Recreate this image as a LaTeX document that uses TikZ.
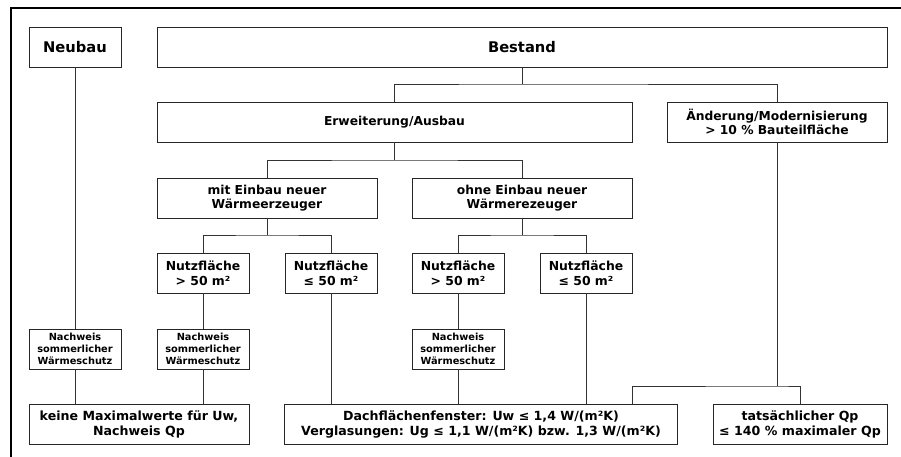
\documentclass[tikz,border=0pt]{standalone}
\usepackage{fontspec}
\setmainfont{DejaVu Sans}
\begin{document}
\begin{tikzpicture}[x=1pt,y=-1pt,
  box/.style={draw=black!85,line width=0.9pt,rectangle,inner sep=0pt,align=center,font=\bfseries},
  big/.style={font=\fontsize{14.7}{16}\selectfont\bfseries},
  mid/.style={font=\fontsize{12.3}{14}\selectfont\bfseries},
  nutz/.style={font=\fontsize{12.4}{15}\selectfont\bfseries},
  small/.style={font=\fontsize{9.8}{12.2}\selectfont\bfseries},
  bot/.style={font=\fontsize{12.6}{15}\selectfont\bfseries},
  con/.style={draw=black!80,line width=0.9pt}]
\useasboundingbox (0,0) rectangle (901,457);
\draw[line width=1.1pt] (11,457) -- (11,8) -- (901,8);
% row 1
\node[box,big,minimum width=92,minimum height=40] (neu) at (75,47) {Neubau};
\node[box,big,minimum width=730,minimum height=40] (best) at (522,47) {Bestand};
% row 2
\node[box,mid,minimum width=475,minimum height=40] (erw) at (394.5,122) {Erweiterung/Ausbau};
\node[box,mid,minimum width=220,minimum height=40] (aend) at (777,122) {Änderung/Modernisierung\\> 10 \% Bauteilfläche};
% row 3
\node[box,mid,minimum width=220,minimum height=40] (mit) at (267,198) {mit Einbau neuer\\Wärmeerzeuger};
\node[box,mid,minimum width=220,minimum height=40] (ohne) at (522,198) {ohne Einbau neuer\\Wärmerezeuger};
% row 4
\node[box,nutz,minimum width=92,minimum height=40] (n1) at (203,273) {Nutzfläche\\> 50 m²};
\node[box,nutz,minimum width=92,minimum height=40] (n2) at (331,273) {Nutzfläche\\≤ 50 m²};
\node[box,nutz,minimum width=92,minimum height=40] (n3) at (458,273) {Nutzfläche\\> 50 m²};
\node[box,nutz,minimum width=92,minimum height=40] (n4) at (586,273) {Nutzfläche\\≤ 50 m²};
% row 5
\node[box,small,minimum width=92,minimum height=40] (s1) at (75,349) {Nachweis\\sommerlicher\\Wärmeschutz};
\node[box,small,minimum width=92,minimum height=40] (s2) at (203,349) {Nachweis\\sommerlicher\\Wärmeschutz};
\node[box,small,minimum width=92,minimum height=40] (s3) at (458,349) {Nachweis\\sommerlicher\\Wärmeschutz};
% row 6
\node[box,bot,minimum width=220,minimum height=40] (keine) at (139,424) {keine Maximalwerte für Uw,\\Nachweis Qp};
\node[box,bot,minimum width=393,minimum height=40] (dach) at (481,424) {Dachflächenfenster: Uw ≤ 1,4 W/(m²K)\\Verglasungen: Ug ≤ 1,1 W/(m²K) bzw. 1,3 W/(m²K)};
\node[box,bot,minimum width=174,minimum height=40] (tats) at (800,424) {tatsächlicher Qp\\≤ 140 \% maximaler Qp};
% connectors
\coordinate (j1) at (522,84);
\coordinate (j2) at (394.5,160);
\coordinate (j3) at (267,235);
\coordinate (j4) at (522,235);
\coordinate (j5) at (777,386);
\draw[con] (best.south) -- (j1);
\draw[con] (erw.north) |- (j1) -| (aend.north);
\draw[con] (erw.south) -- (j2);
\draw[con] (mit.north) |- (j2) -| (ohne.north);
\draw[con] (mit.south) -- (j3);
\draw[con] (n1.north) |- (j3) -| (n2.north);
\draw[con] (ohne.south) -- (j4);
\draw[con] (n3.north) |- (j4) -| (n4.north);
\draw[con] (neu.south) -- (s1.north);
\draw[con] (s1.south) -- (keine.north -| s1.south);
\draw[con] (n1.south) -- (s2.north);
\draw[con] (s2.south) -- (keine.north -| s2.south);
\draw[con] (n2.south) -- (dach.north -| n2.south);
\draw[con] (n3.south) -- (s3.north);
\draw[con] (s3.south) -- (dach.north -| s3.south);
\draw[con] (n4.south) -- (dach.north -| n4.south);
\draw[con] (aend.south) -- (j5);
\draw[con] (dach.north -| erw.east) |- (j5) -| (tats.north);
\end{tikzpicture}
\end{document}
